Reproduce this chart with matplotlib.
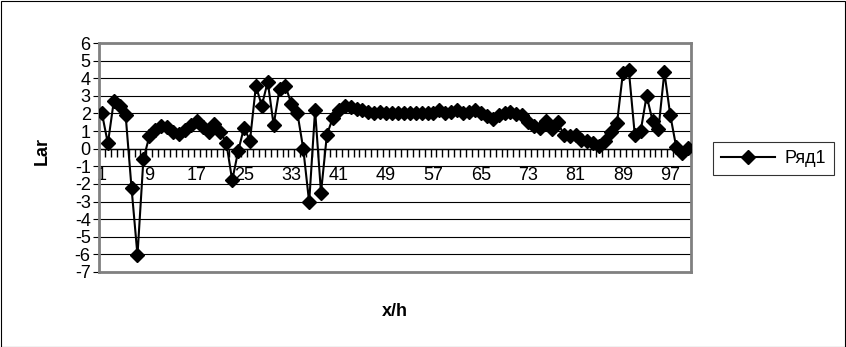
import numpy as np
import matplotlib.pyplot as plt
from matplotlib.patches import Rectangle
from matplotlib.lines import Line2D

plt.rcParams['font.family'] = ['Liberation Sans', 'DejaVu Sans']

# values, one per category 1..100
lar = [
    2.0, 0.3, 2.7, 2.45, 1.9, -2.25, -6.05, -0.6, 0.7, 1.05,
    1.3, 1.25, 0.95, 0.85, 1.05, 1.35, 1.6, 1.25, 0.95, 1.4,
    0.95, 0.35, -1.8, -0.15, 1.2, 0.45, 3.55, 2.45, 3.8, 1.35,
    3.4, 3.55, 2.55, 2.05, 0.0, -3.05, 2.2, -2.5, 0.8, 1.75,
    2.2, 2.4, 2.35, 2.25, 2.2, 2.1, 2.05, 2.1, 2.0, 2.05,
    2.0, 2.05, 2.0, 2.05, 2.0, 2.05, 2.0, 2.2, 2.05, 2.1,
    2.2, 2.0, 2.1, 2.2, 2.0, 1.85, 1.7, 1.9, 2.05, 2.1,
    1.95, 1.9, 1.5, 1.3, 1.2, 1.55, 1.1, 1.5, 0.8, 0.7,
    0.8, 0.5, 0.45, 0.35, 0.15, 0.45, 0.95, 1.45, 4.3, 4.45,
    0.8, 1.0, 3.0, 1.6, 1.1, 4.35, 1.9, 0.1, -0.25, 0.05,
]
cats = np.arange(1, len(lar) + 1)
x_labels = list(range(1, 101, 8))
y_ticks = list(range(-7, 7))
series_name = 'Ряд1'

W, H = 846, 347
fig = plt.figure(figsize=(W / 100, H / 100), dpi=100)
fig.patches.append(Rectangle((0.5 / W, 0.5 / H), 1 - 1.5 / W, 1 - 1.5 / H,
                             transform=fig.transFigure, fill=False,
                             edgecolor='black', linewidth=0.8))

ax = fig.add_axes([99 / W, 1 - 272 / H, (691 - 99) / W, (272 - 43) / H])
ax.plot(cats, lar, color='black', lw=1.5, marker='D', ms=7.5,
        markerfacecolor='black', markeredgecolor='black', zorder=3)
ax.set_xlim(0.5, len(lar) + 0.5)
ax.set_ylim(-7, 6)

ax.set_yticks(y_ticks)
ax.set_yticklabels([str(v) for v in y_ticks], fontsize=13)
ax.tick_params(axis='y', length=4, width=0.8, pad=2, color='black')
ax.grid(axis='y', color='black', lw=0.8)
ax.set_axisbelow(True)
ax.set_xticks([])
for s in ax.spines.values():
    s.set_color('#808080')
    s.set_linewidth(2)

# category axis crossing at zero
sec = ax.secondary_xaxis(7 / 13)
sec.set_alignment('bottom')
sec.spines['bottom'].set_color('black')
sec.spines['bottom'].set_linewidth(1)
sec.set_xticks(x_labels)
sec.set_xticklabels([str(v) for v in x_labels], fontsize=13)
sec.set_xticks(np.arange(0.5, len(lar) + 1, 1), minor=True)
sec.tick_params(axis='x', which='major', length=0, pad=13)
sec.tick_params(axis='x', which='minor', length=6, width=1, color='black')

fig.text(42 / W, 1 - 151 / H, 'Lar', rotation=90, fontsize=13,
         fontweight='bold', ha='center', va='center')
fig.text(395 / W, 1 - 312 / H, 'x/h', fontsize=13, fontweight='bold',
         ha='center', va='center')

h = Line2D([], [], color='black', lw=1.5, marker='D', ms=7.5)
leg = fig.legend([h], [series_name], loc='upper left',
                 bbox_to_anchor=(713 / W, 1 - 142 / H), fontsize=13,
                 frameon=True, fancybox=False, edgecolor='black',
                 handlelength=3.0, handletextpad=0.5, borderpad=0.45,
                 borderaxespad=0)
leg.get_frame().set_linewidth(0.8)

fig.savefig('out.png', dpi=100)
